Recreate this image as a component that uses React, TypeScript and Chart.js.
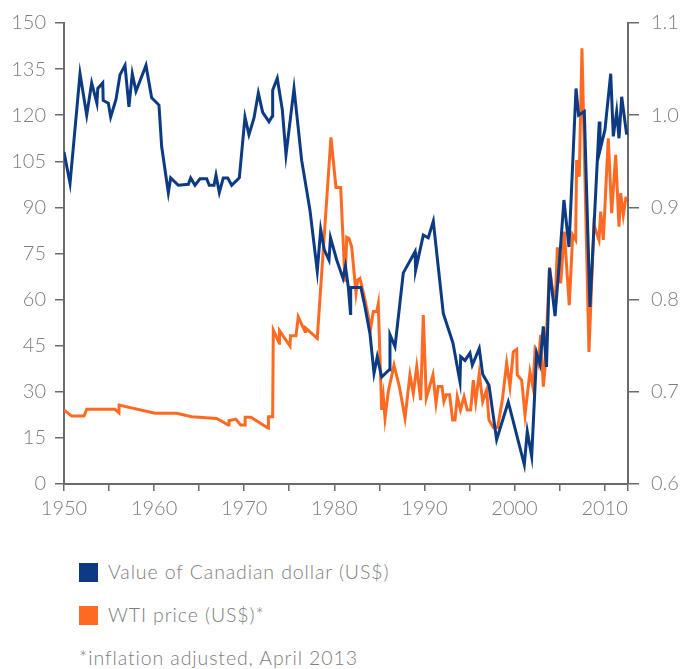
import React, { useEffect, useRef } from 'react';
import { Chart, registerables } from 'chart.js';

Chart.register(...registerables);

// Value of Canadian dollar (US$) — right axis
const cadYears = [
  1950.0, 1950.67, 1951.78, 1952.52, 1953.07, 1953.65, 1953.75, 1954.3, 1954.35, 1954.92,
  1955.18, 1955.77, 1956.22, 1956.77, 1957.21, 1957.58, 1957.99, 1959.1, 1959.73, 1960.54,
  1960.84, 1961.58, 1961.84, 1962.69, 1963.8, 1964.06, 1964.54, 1965.09, 1965.84, 1966.13,
  1966.65, 1966.87, 1967.24, 1967.68, 1968.17, 1968.61, 1969.46, 1970.09, 1970.53, 1971.09,
  1971.57, 1972.05, 1972.75, 1973.12, 1973.16, 1973.67, 1974.23, 1974.64, 1975.53, 1976.38,
  1977.3, 1978.11, 1978.49, 1978.89, 1979.41, 1979.58, 1980.27, 1980.97, 1981.24, 1981.55,
  1981.8, 1981.82, 1982.96, 1983.41, 1983.96, 1984.41, 1984.77, 1985.26, 1986.1, 1986.18,
  1986.74, 1987.66, 1988.96, 1989.03, 1989.88, 1990.43, 1990.99, 1992.1, 1993.17, 1993.95,
  1994.03, 1994.51, 1995.06, 1995.32, 1996.09, 1996.47, 1997.17, 1998.02, 1999.31, 2001.09,
  2001.42, 2001.91, 2002.46, 2002.83, 2003.2, 2003.55, 2003.89, 2004.5, 2004.97, 2005.49,
  2006.05, 2006.83, 2007.12, 2007.75, 2008.38, 2009.41, 2009.49, 2010.04, 2010.68, 2010.97,
  2011.34, 2011.6, 2011.9, 2012.45,
];
const cadValues = [
  0.960, 0.926, 1.045, 1.000, 1.035, 1.013, 1.029, 1.035, 1.016, 1.013,
  0.998, 1.017, 1.044, 1.054, 1.009, 1.045, 1.026, 1.054, 1.019, 1.011,
  0.966, 0.916, 0.932, 0.924, 0.925, 0.932, 0.924, 0.931, 0.931, 0.924,
  0.924, 0.935, 0.916, 0.932, 0.932, 0.924, 0.932, 0.998, 0.979, 0.997,
  1.024, 1.003, 0.993, 0.999, 1.027, 1.040, 1.006, 0.957, 1.029, 0.951,
  0.897, 0.831, 0.876, 0.854, 0.843, 0.867, 0.843, 0.823, 0.836, 0.814,
  0.785, 0.813, 0.813, 0.792, 0.763, 0.720, 0.738, 0.716, 0.724, 0.762,
  0.749, 0.829, 0.852, 0.832, 0.870, 0.867, 0.885, 0.785, 0.753, 0.711,
  0.738, 0.734, 0.742, 0.729, 0.747, 0.719, 0.707, 0.648, 0.689, 0.621,
  0.657, 0.630, 0.742, 0.730, 0.771, 0.727, 0.834, 0.782, 0.839, 0.908,
  0.857, 1.029, 1.000, 1.004, 0.792, 0.993, 0.962, 0.984, 1.045, 0.977,
  1.004, 0.975, 1.020, 0.979,
];

// WTI price (US$, inflation adjusted) — left axis
const wtiYears = [
  1950.0, 1950.85, 1952.22, 1952.52, 1955.66, 1956.1, 1956.12, 1960.1, 1962.51, 1964.17,
  1966.95, 1968.24, 1968.31, 1969.06, 1969.61, 1970.09, 1970.11, 1970.75, 1972.67, 1972.69,
  1973.16, 1973.23, 1973.9, 1973.92, 1975.08, 1975.14, 1975.75, 1976.0, 1976.75, 1976.83,
  1978.11, 1979.63, 1980.19, 1980.71, 1981.19, 1981.38, 1981.63, 1981.93, 1982.41, 1982.6,
  1982.85, 1983.41, 1984.04, 1984.33, 1984.71, 1984.88, 1985.26, 1985.44, 1985.63, 1985.99,
  1986.63, 1987.22, 1987.85, 1988.4, 1988.77, 1989.15, 1989.59, 1989.88, 1990.21, 1990.95,
  1991.29, 1991.54, 1991.95, 1992.17, 1992.43, 1992.8, 1993.14, 1993.4, 1993.65, 1994.01,
  1994.4, 1994.76, 1995.14, 1995.43, 1995.7, 1996.09, 1996.47, 1996.91, 1997.17, 1997.65,
  1998.13, 1998.65, 1999.13, 1999.5, 1999.87, 2000.24, 2000.31, 2000.8, 2001.17, 2001.72,
  2002.05, 2002.27, 2002.64, 2002.91, 2003.2, 2003.39, 2003.89, 2004.5, 2004.76, 2005.13,
  2005.53, 2006.08, 2006.46, 2006.79, 2006.9, 2007.19, 2007.49, 2008.27, 2008.82, 2009.38,
  2009.57, 2009.86, 2010.41, 2010.79, 2011.23, 2011.6, 2011.79, 2012.08, 2012.38,
];
const wtiValues = [
  24.1, 22.1, 22.1, 24.3, 24.3, 23.2, 25.7, 23.0, 23.0, 21.9,
  21.3, 19.2, 20.6, 21.1, 19.2, 19.2, 21.7, 21.7, 18.1, 21.9,
  21.9, 50.1, 45.8, 49.9, 44.9, 48.2, 48.2, 54.4, 49.6, 50.7,
  47.4, 112.8, 96.5, 96.5, 65.8, 80.3, 79.9, 77.2, 62.1, 66.4,
  66.9, 59.9, 50.7, 56.1, 56.1, 58.6, 24.1, 28.4, 21.4, 30.0,
  38.7, 31.7, 21.4, 35.5, 29.5, 38.2, 27.3, 55.0, 27.9, 35.5,
  26.3, 31.7, 31.7, 26.8, 29.0, 29.0, 20.8, 20.8, 28.4, 24.1,
  28.4, 24.1, 24.1, 33.8, 26.8, 36.0, 26.8, 30.6, 20.8, 18.4,
  18.4, 27.3, 39.3, 31.7, 43.0, 43.8, 35.5, 33.8, 22.5, 36.5,
  31.5, 43.0, 39.3, 48.5, 31.7, 37.6, 70.5, 57.2, 77.0, 65.3,
  82.1, 58.2, 81.0, 79.4, 105.4, 100.0, 141.8, 43.0, 84.3, 79.4,
  88.6, 79.4, 112.5, 88.1, 107.1, 83.7, 94.6, 87.5, 93.5,
];

// x-axis tick positions (labels shown on the decades only)
const xTickYears = [1950, 1955, 1960, 1965, 1970, 1975, 1980, 1985, 1990, 1995, 2000, 2005, 2010, 2012.6];
const xLabelYears = [1950, 1960, 1970, 1980, 1990, 2000, 2010];

const seriesLabels = ['Value of Canadian dollar (US$)', 'WTI price (US$)*'];
const footnote = '*inflation adjusted, April 2013';

const BLUE = '#0c3b83';
const ORANGE = '#ff6a22';
const TEXT = '#7d7d7d';
const AXIS = '#6a6a6a';
const FONT = 'Lato, "Open Sans", sans-serif';

export default function App() {
  const ref = useRef<HTMLCanvasElement | null>(null);

  useEffect(() => {
    if (!ref.current) return;
    const tickFont = { family: FONT, size: 20, weight: 300 as any };
    const chart = new Chart(ref.current, {
      type: 'line',
      data: {
        datasets: [
          {
            label: seriesLabels[0],
            data: cadYears.map((x, i) => ({ x, y: cadValues[i] })),
            borderColor: BLUE,
            backgroundColor: BLUE,
            borderWidth: 3,
            pointRadius: 0,
            tension: 0,
            yAxisID: 'yR',
          },
          {
            label: seriesLabels[1],
            data: wtiYears.map((x, i) => ({ x, y: wtiValues[i] })),
            borderColor: ORANGE,
            backgroundColor: ORANGE,
            borderWidth: 3,
            pointRadius: 0,
            tension: 0,
            yAxisID: 'yL',
          },
        ],
      },
      options: {
        animation: false,
        responsive: false,
        maintainAspectRatio: false,
        layout: { padding: { top: 23, left: 0, right: 0, bottom: 0 } },
        plugins: { legend: { display: false }, tooltip: { enabled: false } },
        scales: {
          x: {
            type: 'linear',
            min: 1950,
            max: 2012.6,
            grid: { drawOnChartArea: false, tickLength: 7, color: AXIS, lineWidth: 1.5 },
            border: { color: AXIS, width: 2 },
            afterBuildTicks: (s: any) => {
              s.ticks = xTickYears.map((v) => ({ value: v }));
            },
            ticks: {
              autoSkip: false,
              maxRotation: 0,
              padding: 6,
              color: TEXT,
              font: tickFont,
              callback: (v: any) => {
                const n = Number(v);
                return xLabelYears.includes(n) ? String(n) : '';
              },
            },
            afterFit: (s: any) => {
              s.height = 46;
              s.paddingLeft = 0;
              s.paddingRight = 0;
            },
          },
          yL: {
            type: 'linear',
            position: 'left',
            min: 0,
            max: 150,
            grid: { drawOnChartArea: false, tickLength: 9, color: AXIS, lineWidth: 1.5 },
            border: { color: AXIS, width: 2 },
            ticks: { stepSize: 15, padding: 9, color: TEXT, font: tickFont },
            afterFit: (s: any) => {
              s.width = 64;
              s.paddingTop = 0;
              s.paddingBottom = 0;
            },
          },
          yR: {
            type: 'linear',
            position: 'right',
            min: 0.6,
            max: 1.1,
            grid: { drawOnChartArea: false, tickLength: 11, color: AXIS, lineWidth: 1.5 },
            border: { color: AXIS, width: 2 },
            ticks: {
              stepSize: 0.1,
              padding: 12,
              color: TEXT,
              font: tickFont,
              callback: (v: any) => Number(v).toFixed(1),
            },
            afterFit: (s: any) => {
              s.width = 54;
              s.paddingTop = 0;
              s.paddingBottom = 0;
            },
          },
        },
      },
    });
    return () => chart.destroy();
  }, []);

  const legendText: React.CSSProperties = {
    position: 'absolute',
    fontFamily: FONT,
    fontWeight: 300,
    fontSize: 19.5,
    letterSpacing: '0.9px',
    color: TEXT,
    whiteSpace: 'nowrap',
    lineHeight: '20px',
  };
  const square = (color: string, top: number): React.CSSProperties => ({
    position: 'absolute',
    left: 79,
    top,
    width: 19,
    height: 19,
    background: color,
  });

  return (
    <div style={{ position: 'absolute', left: 0, top: 0, width: 682, height: 669, background: '#fff', overflow: 'hidden' }}>
      <canvas ref={ref} width={682} height={530} style={{ position: 'absolute', left: 0, top: 0, width: 682, height: 530 }} />
      <div style={square(BLUE, 563)} />
      <div style={{ ...legendText, left: 108, top: 562 }}>{seriesLabels[0]}</div>
      <div style={square(ORANGE, 606)} />
      <div style={{ ...legendText, left: 108, top: 605 }}>{seriesLabels[1]}</div>
      <div style={{ ...legendText, left: 79, top: 648 }}>{footnote}</div>
    </div>
  );
}
